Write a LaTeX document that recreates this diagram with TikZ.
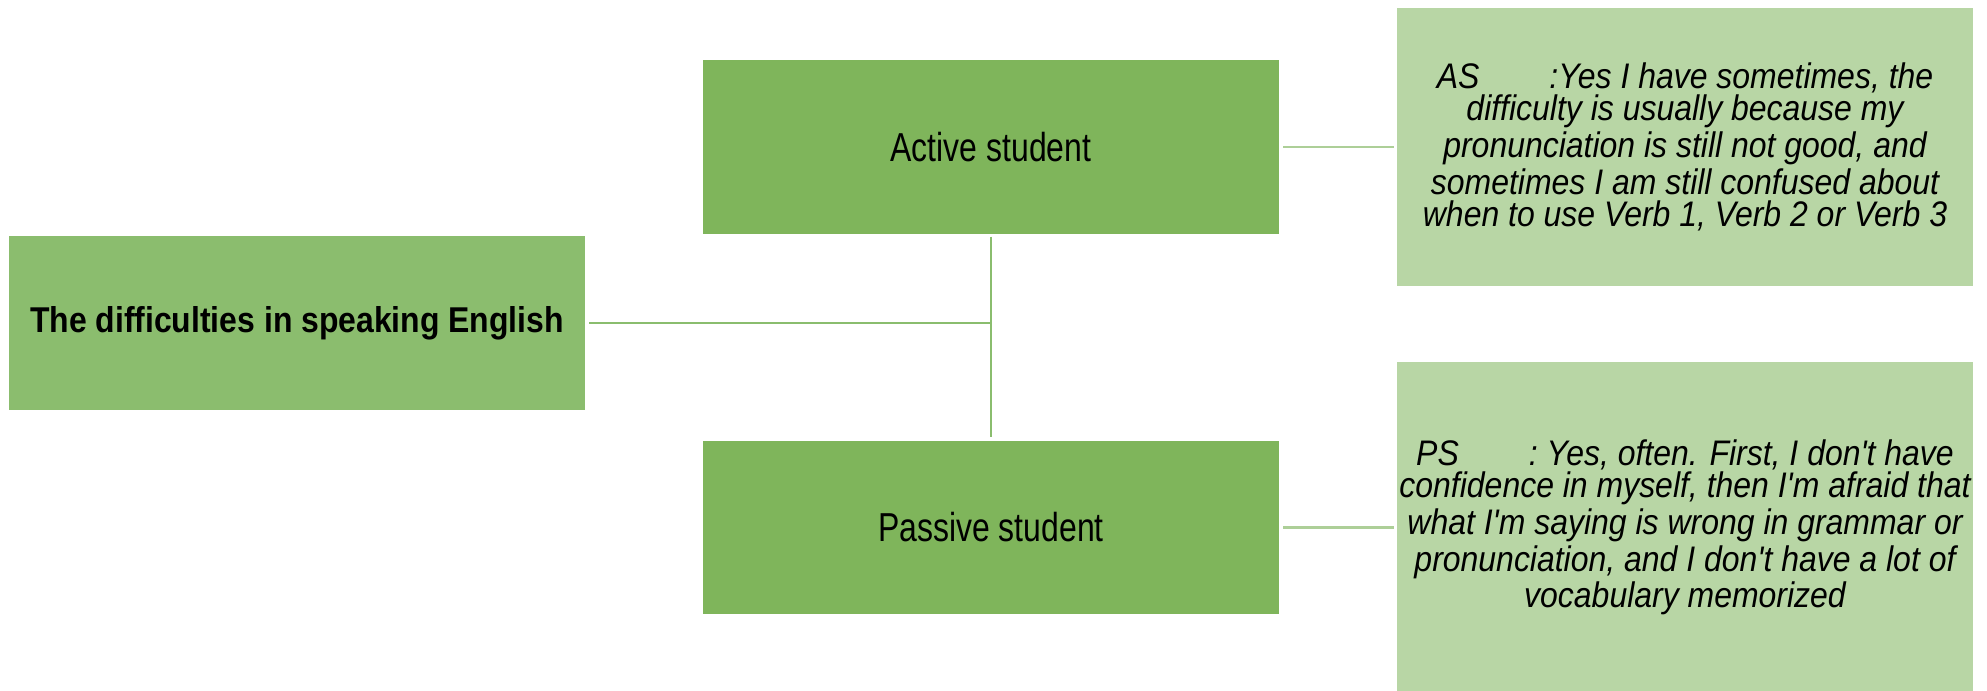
\documentclass[tikz,border=0pt]{standalone}
\usepackage{fontspec}
\setmainfont{Liberation Sans}
\newfontfamily\narrowsans{Liberation Sans}[FakeStretch=0.79]
\newfontfamily\headsans{Liberation Sans}[FakeStretch=0.89]
\newfontfamily\quotesans{Liberation Sans}[FakeStretch=0.9]
\definecolor{rootgreen}{HTML}{8BBD6E}
\definecolor{kidgreen}{HTML}{7FB55B}
\definecolor{quotegreen}{HTML}{B8D6A5}
\definecolor{trunkgreen}{HTML}{8ABD6E}
\definecolor{twiggreen}{HTML}{ADCF98}

\begin{document}
\begin{tikzpicture}[x=0.01cm,y=-0.01cm,
        box/.style={fill=#1,draw=white,line width=0.3pt,inner sep=0pt,minimum width=5.76cm},
        kid/.style={box=kidgreen,minimum height=1.74cm,font=\fontsize{11.5pt}{13pt}\selectfont\narrowsans},
        quote/.style={box=quotegreen,align=center,font=\fontsize{10.1pt}{9.2pt}\selectfont\quotesans\itshape},
        trunk/.style={trunkgreen,line width=0.75pt},
        twig/.style={twiggreen,line width=0.75pt,shorten <=1pt,shorten >=0.6pt}]
                \useasboundingbox (0,0) rectangle (1987,691);
                % topic and the two kinds of student
                \node[box=rootgreen,minimum height=1.74cm,font=\fontsize{10.2pt}{12pt}\selectfont\headsans\bfseries] (root) at (297,323) {The difficulties in speaking English};
                \node[kid] (active) at (991,147) {Active student};
                \node[kid] (passive) at (991,527.5) {Passive student};
                % what they answered
                \node[quote,minimum height=2.78cm] (as) at (1685,147) {AS\hspace{0.7cm}:Yes I have sometimes, the\\difficulty is usually because my\\pronunciation is still not good, and\\sometimes I am still confused about\\when to use Verb 1, Verb 2 or Verb 3};
                \node[quote,minimum height=3.31cm] (ps) at (1685,527.5) {PS\hspace{0.7cm}: Yes, often. First, I don't have\\confidence in myself, then I'm afraid that\\what I'm saying is wrong in grammar or\\pronunciation, and I don't have a lot of\\vocabulary memorized};
                \draw[trunk,shorten <=1pt] (root.east) -- (root -| active);
                \draw[trunk,shorten <=0.6pt,shorten >=0.85pt] (active.south) -- (passive.north);
                \draw[twig] (active) -- (as);
                \draw[twig] (passive) -- (ps);
            \end{tikzpicture}
\end{document}
